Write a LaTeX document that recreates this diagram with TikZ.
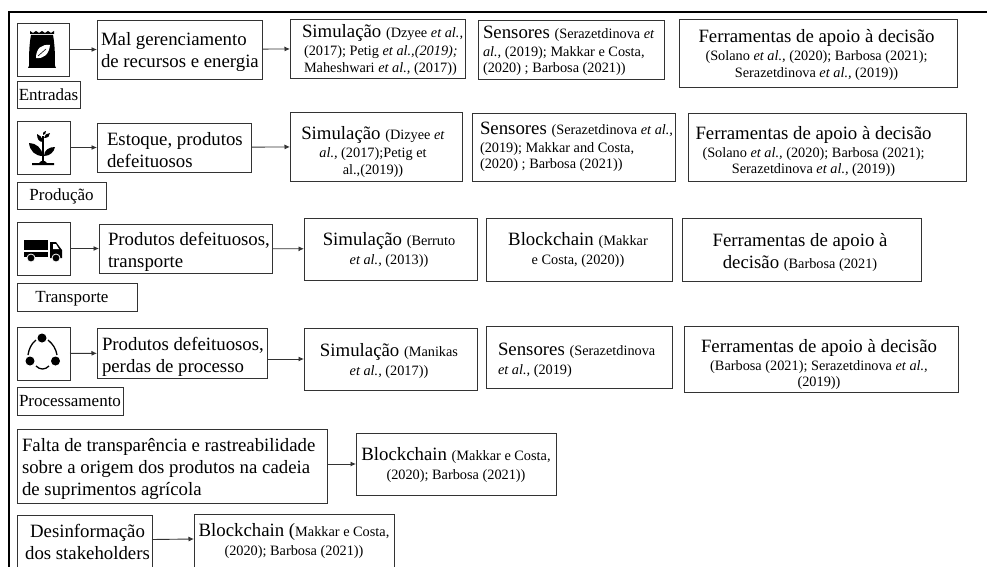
\documentclass[tikz,border=0pt]{standalone}
\usepackage{fontspec}
\setmainfont{Liberation Serif}
\usetikzlibrary{arrows.meta}
\definecolor{ln}{gray}{0.2}
\newcommand{\Lg}{\fontsize{18.8}{22}\selectfont}
\newcommand{\Sm}{\fontsize{14.3}{22}\selectfont}
\newcommand{\Lb}{\fontsize{17}{22}\selectfont}
\newcommand{\Ei}{\textit{et al.,}}
\newcommand{\Sft}[1]{\leftskip=#1pt plus 1fil\rightskip=0pt plus 1fil\parfillskip=0pt\relax}
\newcommand{\Pad}[1]{\leftskip=#1pt\relax}
\newcommand{\ctr}{\centering}
\newcommand{\lft}{\raggedright}
\tikzset{
  x=1pt,y=-1pt,
  bx/.style={draw=ln,line width=0.9pt,rectangle,inner sep=0pt,outer sep=0pt,anchor=center},
  lnk/.style={draw=ln,line width=0.9pt,-{Latex[length=5.5pt,width=5pt]}},
}
\newlength{\Bxw}
% \Bx[dy]{name}{x0}{y0}{x1}{y1}{alignment}{text}
\newcommand{\Bx}[8][0]{\pgfmathsetlength{\Bxw}{(#5-#3)*1pt}\node[bx,minimum width={(#5-#3)*1pt},minimum height={(#6-#4)*1pt}] (#2) at ({(#3+#5)/2},{(#4+#6)/2}) {\raisebox{\dimexpr-2.5pt-#1pt\relax}[0pt][0pt]{\parbox[c]{\Bxw}{#7\Lg #8\par}}};}
\begin{document}
\begin{tikzpicture}
\useasboundingbox (0,0) rectangle (987,567);
\fill[white] (0,0) rectangle (987,567);
\draw[black,line width=1.8pt] (987,12) -- (9,12) -- (9,567);
% row 1
\Bx{i1}{17}{23}{69}{76}{\ctr}{}
\Bx[3]{m1}{97}{20}{262}{79}{\lft}{\Pad{4}Mal gerenciamento\\de recursos e energia}
\Bx[1.5]{s1}{290}{19}{465}{78}{\lft}{\Pad{12}Simulação {\Sm(Dzyee \Ei}\\[-4pt]{\Sm\hspace*{2pt}(2017); Petig \Ei\textit{(2019);}}\\[-5.5pt]{\Sm\hspace*{2pt}Maheshwari \Ei{} (2017))}}
\Bx[1.5]{n1}{478}{20}{664}{79}{\lft}{\Pad{5}Sensores {\Sm(Serazetdinova \textit{et}}\\[-4pt]{\Sm\textit{al.,} (2019); Makkar e Costa,}\\[-5.5pt]{\Sm(2020) ; Barbosa (2021))}}
\Bx[2]{f1}{679}{19}{957}{87}{\ctr}{\Sft{-3}Ferramentas de apoio à decisão\\[-4pt]{\Sm (Solano \Ei{} (2020); Barbosa (2021);}\\[-5.5pt]{\Sm Serazetdinova \Ei{} (2019))}}
\Bx{l1}{17}{81}{80}{108}{\ctr}{\Lb Entradas}
% row 2
\Bx{i2}{17}{121}{70}{174}{\ctr}{}
\Bx[3]{m2}{97}{123}{251}{172}{\lft}{\Pad{10}Estoque, produtos\\defeituosos}
\Bx[5.5]{s2}{290}{112}{462}{181}{\ctr}{\Sft{-6}Simulação {\Sm(Dizyee \textit{et}}\\[-4pt]{\Sm\textit{al.,} (2017);Petig et}\\[-5.5pt]{\Sm al.,(2019))}}
\Bx{n2}{472}{113}{675}{181}{\lft}{\Pad{8}Sensores {\Sm(Serazetdinova \Ei}\\[-4pt]{\Sm (2019); Makkar and Costa,}\\[-5.5pt]{\Sm (2020) ; Barbosa (2021))}}
\Bx[4.5]{f2}{688}{113}{966}{181}{\ctr}{\Sft{-27}Ferramentas de apoio à decisão\\[-4pt]{\Sm (Solano \Ei{} (2020); Barbosa (2021);}\\[-5.5pt]{\Sm Serazetdinova \Ei{} (2019))}}
\Bx[0.5]{l2}{17}{182}{106}{209}{\ctr}{\Lb Produção}
% row 3
\Bx{i3}{17}{222}{70}{275}{\ctr}{}
\Bx[3]{m3}{99}{224}{272}{273}{\lft}{\Pad{9}Produtos defeituosos,\\transporte}
\Bx[1]{s3}{304}{218}{477}{280}{\ctr}{\Sft{-3}Simulação {\Sm(Berruto}\\[-3pt]{\Sm\Ei{} (2013))}}
\Bx{n3}{486}{218}{672}{281}{\ctr}{\Sft{-2}Blockchain {\Sm(Makkar}\\[-3pt]{\Sm e Costa, (2020))}}
\Bx[3]{f3}{682}{218}{921}{281}{\ctr}{\Sft{-3}Ferramentas de apoio à\\decisão {\Sm(Barbosa (2021)}}
\Bx[1.5]{l3}{17}{283}{137}{311}{\ctr}{\Lb\Sft{-10}Transporte}
% row 4
\Bx{i4}{17}{327}{70}{380}{\ctr}{}
\Bx[4]{m4}{97}{328}{267}{378}{\lft}{\Pad{5}Produtos defeituosos,\\perdas de processo}
\Bx[2]{s4}{304}{328}{477}{390}{\ctr}{\Sft{-3}Simulação {\Sm(Manikas}\\[-3pt]{\Sm\Ei{} (2017))}}
\Bx[3]{n4}{486}{326}{672}{388}{\lft}{\Pad{12}Sensores {\Sm(Serazetdinova}\\[-3pt]{\Sm\Ei{} (2019)}}
\Bx[5.5]{f4}{684}{326}{958}{392}{\ctr}{\Sft{-4}Ferramentas de apoio à decisão\\[-4pt]{\Sm (Barbosa (2021); Serazetdinova \Ei}\\[-5.5pt]{\Sm(2019))}}
\Bx[0.5]{l4}{17}{387}{123}{415}{\ctr}{\Lb Processamento}
% row 5
\Bx[3]{m5}{17}{429}{327}{503}{\lft}{\Pad{5}Falta de transparência e rastreabilidade\\sobre a origem dos produtos na cadeia\\de suprimentos agrícola}
\Bx[1]{s5}{356}{433}{556}{495}{\ctr}{Blockchain {\Sm(Makkar e Costa,}\\[-3pt]{\Sm(2020); Barbosa (2021))}}
% row 6
\Bx[-1]{m6}{17}{515}{152}{570}{\ctr}{\Sft{6}Desinformação\\dos stakeholders}
\Bx[-1]{s6}{194}{514}{394}{570}{\ctr}{Blockchain ({\Sm Makkar e Costa,}\\[-3pt]{\Sm(2020); Barbosa (2021))}}
% connectors
\foreach \a/\b in {i1/m1,m1/s1,i2/m2,m2/s2,i3/m3,m3/s3,i4/m4}
 \draw[lnk] (\a) -- (\b);
\draw[lnk] (s4.west -| m4.east) -- (s4.west);
\draw[lnk] (s5.west -| m5.east) -- (s5.west);
\draw[lnk] ([yshift=3pt]m6.east) -- ([yshift=3pt]s6.west);
% icon: bag
\fill[black] (30,31) -- (33,33) -- (36,31) -- (39,33) -- (42,31) -- (45,33) -- (48,31) -- (51,33) -- (54,31) -- (54,34) -- (30,34) -- cycle;
\fill[black] (31,35) -- (53,35) .. controls (55,45) and (55,58) .. (55,66) -- (56,68) -- (28,68) -- (29,66) .. controls (29,58) and (29,45) .. (31,35) -- cycle;
\fill[white] (50,45) .. controls (42,44) and (36,48) .. (36,58) .. controls (44,59) and (49,54) .. (50,45) -- cycle;
\draw[black,line width=0.6pt] (38,56) -- (46,49);
% icon: plant
\fill[black] (32,165) -- (54,165) -- (54,163) -- (47,163) .. controls (45,160) and (41,160) .. (39,163) -- (32,163) -- cycle;
\draw[black,line width=1.6pt] (43,162) -- (43,136);
\fill[black] (43,156) .. controls (42,148) and (36,143) .. (29,143) .. controls (30,151) and (35,156) .. (43,156) -- cycle;
\fill[black] (44,156) .. controls (50,156) and (54,152) .. (55,147) .. controls (49,147) and (44,150) .. (44,156) -- cycle;
\fill[black] (43,142) .. controls (42,137) and (40,135) .. (37,134) .. controls (37,139) and (39,142) .. (43,142) -- cycle;
\fill[black] (44,138) .. controls (48,138) and (50,136) .. (50,133) .. controls (47,133) and (44,135) .. (44,138) -- cycle;
\fill[black] (43,135) .. controls (45,135) and (46,133) .. (46,131) .. controls (44,131) and (42,133) .. (43,135) -- cycle;
% icon: truck
\fill[black] (24,240) rectangle (48,250);
\fill[black] (24,252) rectangle (48,257);
\fill[black] (50,242) -- (56,242) -- (62,250) -- (62,258) -- (50,258) -- cycle;
\fill[white] (53,244) -- (56,244) -- (59,249) -- (53,249) -- cycle;
\filldraw[black,draw=white,line width=0.8pt] (31,258) circle (4);
\filldraw[black,draw=white,line width=0.8pt] (56,258) circle (4);
% icon: cycle
\fill[black] (42,338) circle (4.5) (30,361) circle (4.5) (55.5,361) circle (4.5);
\draw[black,line width=1.3pt] (36,340) .. controls (31,344) and (29,349) .. (28,355);
\draw[black,line width=1.3pt] (48,340) .. controls (53,344) and (56,349) .. (57,355);
\draw[black,line width=1.3pt] (36,366) .. controls (40,370) and (45,370) .. (49,366);
\end{tikzpicture}
\end{document}
